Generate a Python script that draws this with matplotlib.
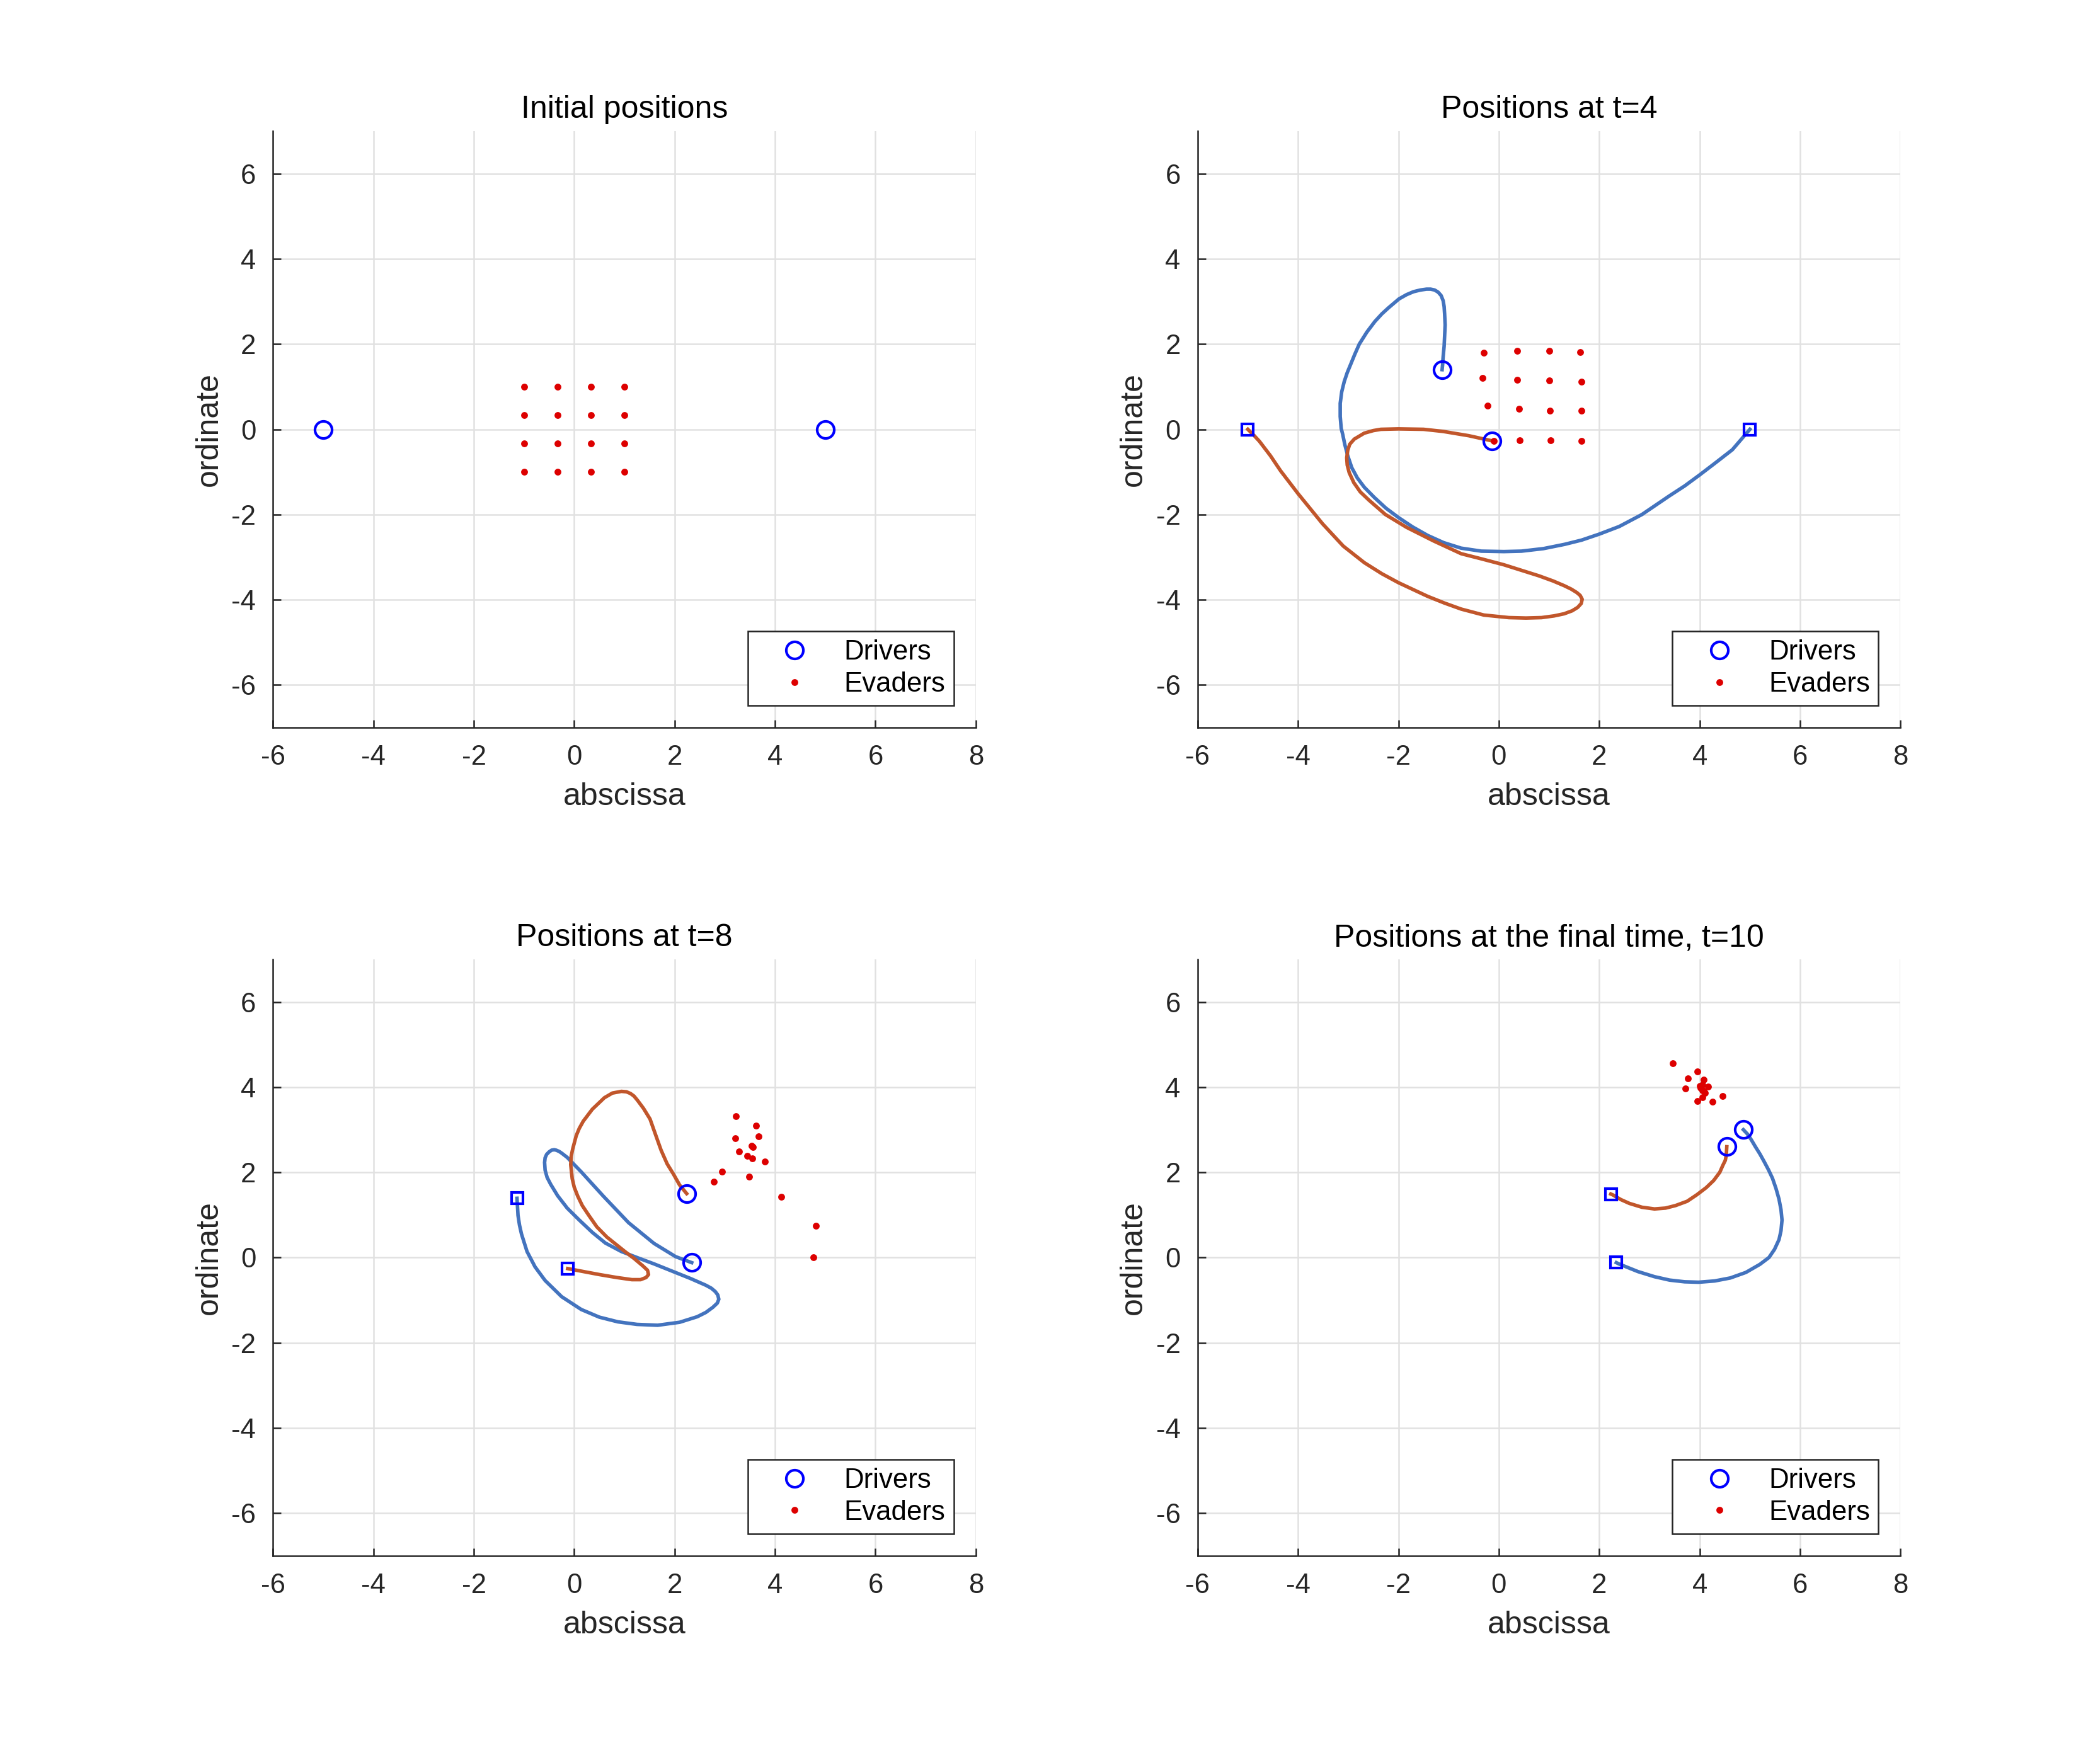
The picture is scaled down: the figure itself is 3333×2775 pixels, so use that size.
import matplotlib
matplotlib.use("Agg")
import matplotlib.pyplot as plt

plt.rcParams['font.family'] = ['Liberation Sans', 'DejaVu Sans']
plt.rcParams['axes.unicode_minus'] = False

# ---- data ----
titles = ["Initial positions", "Positions at t=4", "Positions at t=8",
          "Positions at the final time, t=10"]

# drivers (circles) at each snapshot
drivers_x = [[-5.0, 5.0], [-1.13, -0.14], [2.24, 2.34], [4.54, 4.87]]
drivers_y = [[0.0, 0.0], [1.40, -0.27], [1.50, -0.12], [2.60, 3.00]]

# evaders (dots) at each snapshot
ev0_x = [-1, -1/3, 1/3, 1] * 4
ev0_y = [1] * 4 + [1/3] * 4 + [-1/3] * 4 + [-1] * 4

ev4_x = [-0.30, 0.36, 1.00, 1.62, -0.32, 0.36, 1.00, 1.64,
         -0.22, 0.40, 1.02, 1.65, -0.10, 0.42, 1.03, 1.65]
ev4_y = [1.79, 1.84, 1.84, 1.81, 1.20, 1.16, 1.14, 1.12,
         0.56, 0.48, 0.44, 0.43, -0.27, -0.26, -0.26, -0.27]

ev8_x = [3.22, 3.62, 3.21, 3.67, 3.54, 3.56, 3.28, 3.45,
         3.55, 3.80, 2.95, 3.48, 2.78, 4.12, 4.81, 4.77]
ev8_y = [3.32, 3.10, 2.80, 2.84, 2.62, 2.59, 2.49, 2.39,
         2.33, 2.25, 2.02, 1.90, 1.78, 1.42, 0.74, 0.01]

ev10_x = [3.47, 3.96, 3.76, 4.08, 4.00, 4.05, 4.17, 3.71,
          4.05, 4.10, 4.05, 4.46, 3.96, 4.25, 4.08, 4.02]
ev10_y = [4.56, 4.37, 4.20, 4.18, 4.03, 4.05, 4.01, 3.97,
          3.93, 3.87, 3.76, 3.79, 3.67, 3.65, 3.91, 3.98]

evaders_x = [ev0_x, ev4_x, ev8_x, ev10_x]
evaders_y = [ev0_y, ev4_y, ev8_y, ev10_y]

# trajectories between snapshots (blue = driver 1, orange = driver 2)
blue4_x = [5.0, 4.65, 4.3, 4.0, 3.7, 3.4, 2.85, 2.4, 2.0, 1.65, 1.31, 0.89,
           0.45, 0.1, -0.35, -0.75, -1.1, -1.42, -1.72, -2.0, -2.25, -2.48,
           -2.68, -2.82, -2.93, -3.01, -3.07, -3.11, -3.14, -3.16, -3.16, -3.13,
           -3.08, -3.02, -2.95, -2.87, -2.78, -2.63, -2.47, -2.33, -2.2, -1.99,
           -1.84, -1.70, -1.56, -1.44, -1.36, -1.28, -1.21, -1.15, -1.11, -1.09,
           -1.08, -1.07, -1.08, -1.09, -1.11, -1.12, -1.13]
blue4_y = [0.0, -0.48, -0.80, -1.07, -1.33, -1.56, -2.0, -2.28, -2.46, -2.60,
           -2.70, -2.80, -2.86, -2.87, -2.86, -2.79, -2.66, -2.49, -2.29,
           -2.07, -1.85, -1.60, -1.36, -1.14, -0.90, -0.62, -0.35, -0.12, 0.02,
           0.30, 0.61, 0.88, 1.12, 1.33, 1.53, 1.76, 2.0, 2.28, 2.53, 2.71,
           2.85, 3.06, 3.16, 3.23, 3.27, 3.29, 3.29, 3.27, 3.22, 3.14, 3.02,
           2.88, 2.70, 2.45, 2.20, 1.95, 1.70, 1.52, 1.40]
orange4_x = [-5.0, -4.88, -4.77, -4.55, -4.35, -4.0, -3.51, -3.10, -2.68, -2.33,
             -2.0, -1.42, -1.08, -0.75, -0.30, 0.2, 0.54, 0.85, 1.1, 1.30, 1.46,
             1.57, 1.64, 1.66, 1.62, 1.55, 1.44, 1.30, 1.08, 0.8, 0.45, 0.10,
             -0.35, -0.75, -1.30, -1.84, -2.26, -2.59, -2.76, -2.89, -2.98,
             -3.02, -3.03, -3.01, -2.97, -2.88, -2.68, -2.50, -2.35, -2.0, -1.5,
             -1.11, -0.6, -0.14]
orange4_y = [0.0, -0.14, -0.28, -0.62, -0.97, -1.51, -2.22, -2.74, -3.13, -3.39,
             -3.60, -3.92, -4.08, -4.22, -4.36, -4.42, -4.43, -4.42, -4.38,
             -4.33, -4.26, -4.18, -4.09, -3.99, -3.90, -3.83, -3.75, -3.67,
             -3.56, -3.44, -3.31, -3.18, -3.04, -2.92, -2.62, -2.30, -2.0, -1.66,
             -1.47, -1.25, -1.02, -0.84, -0.67, -0.49, -0.35, -0.23, -0.09,
             -0.03, 0.0, 0.01, 0.0, -0.05, -0.15, -0.27]

blue8_x = [-1.14, -1.13, -1.12, -1.09, -1.05, -0.94, -0.78, -0.58, -0.25, 0.14,
           0.5, 0.87, 1.25, 1.66, 2.1, 2.45, 2.62, 2.76, 2.85, 2.88, 2.86,
           2.81, 2.73, 2.62, 2.31, 1.95, 1.59, 1.25, 0.94, 0.62, 0.36, 0.1,
           -0.14, -0.33, -0.47, -0.54, -0.58, -0.59, -0.58, -0.55, -0.50,
           -0.45, -0.40, -0.36, -0.30, -0.25, -0.14, 0.14, 0.58, 1.08, 1.59,
           2.02, 2.34]
blue8_y = [1.39, 1.20, 0.99, 0.76, 0.55, 0.14, -0.22, -0.54, -0.92, -1.22,
           -1.40, -1.51, -1.57, -1.59, -1.52, -1.39, -1.29, -1.17, -1.07,
           -0.98, -0.88, -0.80, -0.72, -0.65, -0.49, -0.32, -0.15, 0.0, 0.14,
           0.34, 0.59, 0.88, 1.16, 1.45, 1.72, 1.88, 2.05, 2.23, 2.34, 2.42,
           2.48, 2.52, 2.53, 2.52, 2.49, 2.45, 2.35, 2.01, 1.44, 0.82, 0.33,
           0.02, -0.12]
orange8_x = [-0.13, 0.50, 0.85, 1.15, 1.32, 1.43, 1.48, 1.46, 1.37, 1.20, 1.01,
             0.65, 0.45, 0.29, 0.16, 0.07, 0.0, -0.04, -0.07, -0.06, -0.03,
             0.04, 0.10, 0.18, 0.36, 0.6, 0.76, 0.94, 1.04, 1.12, 1.19, 1.26,
             1.38, 1.51, 1.63, 1.73, 1.85, 1.98, 2.10, 2.24]
orange8_y = [-0.26, -0.40, -0.47, -0.52, -0.52, -0.47, -0.40, -0.30, -0.20,
             -0.03, 0.14, 0.48, 0.72, 0.99, 1.22, 1.44, 1.65, 1.85, 2.18, 2.38,
             2.55, 2.86, 3.03, 3.2, 3.48, 3.75, 3.86, 3.90, 3.89, 3.85, 3.79,
             3.69, 3.5, 3.25, 2.85, 2.52, 2.2, 1.95, 1.70, 1.50]

blue10_x = [2.34, 2.39, 2.77, 3.10, 3.40, 3.70, 3.98, 4.30, 4.61, 4.92, 5.20,
            5.38, 5.49, 5.58, 5.62, 5.64, 5.62, 5.58, 5.52, 5.45, 5.37, 5.28,
            5.20, 5.11, 5.03, 4.95, 4.87]
blue10_y = [-0.12, -0.15, -0.33, -0.45, -0.53, -0.57, -0.58, -0.55, -0.48,
            -0.35, -0.16, 0.0, 0.19, 0.42, 0.63, 0.88, 1.12, 1.37, 1.62, 1.86,
            2.06, 2.26, 2.43, 2.60, 2.76, 2.90, 3.00]
orange10_x = [2.23, 2.27, 2.43, 2.60, 2.85, 3.10, 3.32, 3.52, 3.75, 3.94, 4.13,
              4.28, 4.40, 4.46, 4.51, 4.53, 4.54]
orange10_y = [1.49, 1.47, 1.36, 1.27, 1.18, 1.14, 1.16, 1.22, 1.32, 1.47, 1.64,
              1.81, 2.0, 2.16, 2.28, 2.40, 2.60]

paths = [
    [],
    [(blue4_x, blue4_y), (orange4_x, orange4_y)],
    [(blue8_x, blue8_y), (orange8_x, orange8_y)],
    [(blue10_x, blue10_y), (orange10_x, orange10_y)],
]

xticks = [-6, -4, -2, 0, 2, 4, 6, 8]
yticks = [-6, -4, -2, 0, 2, 4, 6]

# ---- styling ----
BLUE_LINE = '#4373BE'
ORANGE_LINE = '#C1562B'
DARK = '#262626'
path_colors = [BLUE_LINE, ORANGE_LINE]

positions = [[0.13, 0.5838, 0.3347, 0.3412], [0.5703, 0.5838, 0.3347, 0.3412],
             [0.13, 0.11, 0.3347, 0.3412], [0.5703, 0.11, 0.3347, 0.3412]]

fig = plt.figure(figsize=(3333 / 300, 2775 / 300), dpi=300)

for i in range(4):
    ax = fig.add_axes(positions[i])

    for (px, py), col in zip(paths[i], path_colors):
        ax.plot(px, py, color=col, lw=1.35, zorder=2, solid_joinstyle='round')
        ax.plot(px[0], py[0], 's', ms=4.3, mfc='none', mec='#0000FF', mew=1.0,
                zorder=4)

    ax.plot(drivers_x[i], drivers_y[i], 'o', ms=6.5, mfc='none', mec='#0000FF',
            mew=1.0, zorder=4, label='Drivers')
    ax.plot(evaders_x[i], evaders_y[i], '.', ms=3.2, color='#DD0000',
            zorder=5, label='Evaders')

    ax.set_xlim(-6, 8)
    ax.set_ylim(-7, 7)
    ax.set_xticks(xticks)
    ax.set_yticks(yticks)
    ax.grid(True, color='#E1E1E1', lw=0.6, zorder=0)
    ax.set_axisbelow(True)
    for side in ['top', 'right']:
        ax.spines[side].set_visible(False)
    for side in ['left', 'bottom']:
        ax.spines[side].set_color(DARK)
        ax.spines[side].set_linewidth(0.6)
    ax.tick_params(direction='in', length=3, width=0.6, color=DARK,
                   labelcolor=DARK, labelsize=10.5, pad=6.5)

    ax.set_title(titles[i], fontsize=12, pad=5, color='black')
    ax.set_xlabel('abscissa', fontsize=12, color=DARK, labelpad=4.5)
    ax.set_ylabel('ordinate', fontsize=12, color=DARK, labelpad=3)

    leg = ax.legend(loc='lower right', fontsize=10.5, fancybox=False,
                    framealpha=1, edgecolor=DARK, borderpad=0.3,
                    labelspacing=0.22, handlelength=2.8, handletextpad=0.4,
                    borderaxespad=0.8)
    leg.get_frame().set_linewidth(0.6)

fig.savefig('out.png', dpi=300)
